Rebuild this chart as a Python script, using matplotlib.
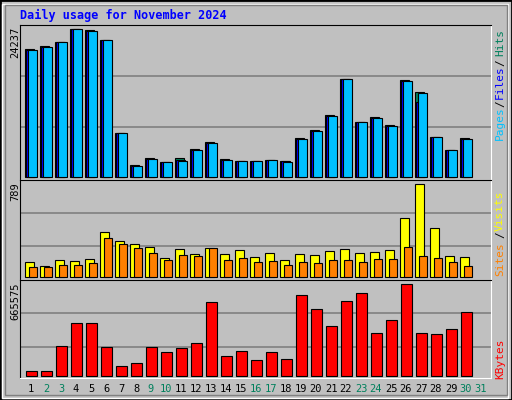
import matplotlib
matplotlib.use("Agg")
from matplotlib import pyplot as plt
import numpy as np

days = list(range(1, 32))
weekend = [2, 3, 9, 10, 16, 17, 23, 24, 30, 31]

hits = [20955, 21447, 22104, 24237, 24073, 22432, 7167, 1915, 3064, 2407, 3064, 4541, 5690, 2900, 2571,
        2571, 2736, 2571, 6347, 7660, 10122, 16031, 8973, 9793, 8480, 15866, 13897, 6511, 4377, 6347, 0]
files = [20850, 21350, 22050, 24200, 23950, 22400, 7160, 1850, 2950, 2400, 2750, 4480, 5600, 2850, 2560,
         2560, 2730, 2560, 6250, 7550, 10050, 16000, 8950, 9700, 8400, 15800, 12255, 6500, 4350, 6250, 0]
pages = [20790, 21290, 22040, 24237, 23910, 22430, 7167, 1751, 2900, 2407, 2571, 4377, 5526, 2736, 2571,
         2571, 2736, 2407, 6183, 7496, 9958, 16031, 8973, 9629, 8316, 15702, 13733, 6511, 4377, 6183, 0]

visits = [122, 91, 140, 131, 148, 379, 302, 276, 251, 157, 234, 191, 242, 191, 225,
          165, 199, 140, 191, 182, 216, 234, 199, 208, 225, 498, 789, 413, 174, 165, 0]
sites = [80, 80, 97, 97, 114, 328, 276, 242, 199, 140, 182, 174, 242, 140, 157,
         122, 131, 97, 122, 114, 140, 140, 122, 148, 148, 251, 174, 157, 122, 88, 0]

kbytes = [31578, 31578, 213760, 381369, 381369, 206474, 68015, 89877, 206474, 170037, 199186, 235623,
          534402, 140888, 177324, 111739, 170037, 119026, 585413, 483391, 359507, 541689, 599988,
          308496, 403231, 665575, 308496, 301208, 337645, 461529, 0]

BG = '#C0C0C0'
W, H = 512, 400
fig = plt.figure(figsize=(5.12, 4.0), dpi=100, facecolor=BG)
mono = 'DejaVu Sans Mono'

# outer bevel
fig.patches.append(plt.Rectangle((0, 0), 1, 1, transform=fig.transFigure, fill=False, ec='black', lw=2))
fig.patches.append(plt.Rectangle((2/W, 2/H), 1-6/W, 1-6/H, transform=fig.transFigure, fill=False, ec='white', lw=1))
fig.patches.append(plt.Rectangle((5/W, 5/H), 1-10/W, 1-10/H, transform=fig.transFigure, fill=False, ec='#808080', lw=1))


def panel(top, bottom, base_px, max_px, vmax, grids):
    ax = fig.add_axes([20/W, 1-bottom/H, 471/W, (bottom-top)/H])
    ax.set_facecolor(BG)
    height = bottom - top
    unit = vmax / max_px
    ax.set_ylim(-base_px*unit, (height-base_px)*unit)
    ax.set_xlim(1 - 5/15, 1 - 5/15 + 471/15)
    ax.set_xticks([])
    ax.set_yticks([])
    for f in grids:
        ax.plot([0, 1], [f, f], transform=ax.transAxes, color='#808080', lw=1.2, zorder=0)
    for s in ['left', 'top']:
        ax.spines[s].set_color('black')
    for s in ['right', 'bottom']:
        ax.spines[s].set_color('white')
    return ax


def bars(ax, offset, vals, width, color):
    v = np.array(vals)
    m = v > 0
    ax.bar(np.array(days)[m] + offset, v[m], width=width, align='edge', color=color, ec='black', lw=0.8)


ax1 = panel(25, 180, 3, 148, 24237, [0.342, 0.671])
bars(ax1, 0, hits, 0.6, '#00805C')
bars(ax1, 0.09, files, 0.6, '#0000FF')
bars(ax1, 0.18, pages, 0.6, '#00C0FF')

ax2 = panel(180, 280, 3.3, 92.4, 789, [0.337, 0.667])
bars(ax2, 0, visits, 0.58, '#FFFF00')
bars(ax2, 0.27, sites, 0.51, '#FF8000')

ax3 = panel(280, 378, 2.3, 91.4, 665575, [0.32, 0.66])
bars(ax3, 0.07, kbytes, 0.71, '#FF0000')

fig.text(20/W, 1-15/H, 'Daily usage for November 2024', color='#0000FF', family=mono,
         weight='bold', fontsize=8.5, va='center', ha='left')

for label, ytop in [('24237', 27), ('789', 182), ('665575', 282)]:
    fig.text(15/W, 1-ytop/H, label, rotation=90, family=mono, fontsize=7.5, va='top', ha='center')

right = [('Hits', '#00805C', 42), ('/', 'black', 63), ('Files', '#0000FF', 82), ('/', 'black', 104),
         ('Pages', '#00C0FF', 123), ('Visits', '#FFFF00', 211), ('/', 'black', 235),
         ('Sites', '#FF8000', 259), ('KBytes', '#FF0000', 359)]
for label, c, yc in right:
    fig.text(500/W, 1-yc/H, label, rotation=90, family=mono, fontsize=8, color=c,
             va='center', ha='center')

for i in days:
    x = (25 + 15*(i-1) + 6) / W
    fig.text(x, 1-389/H, str(i), family=mono, fontsize=7.5, ha='center', va='center',
             color='#00805C' if i in weekend else 'black')

fig.savefig('out.png', dpi=100, facecolor=BG)
